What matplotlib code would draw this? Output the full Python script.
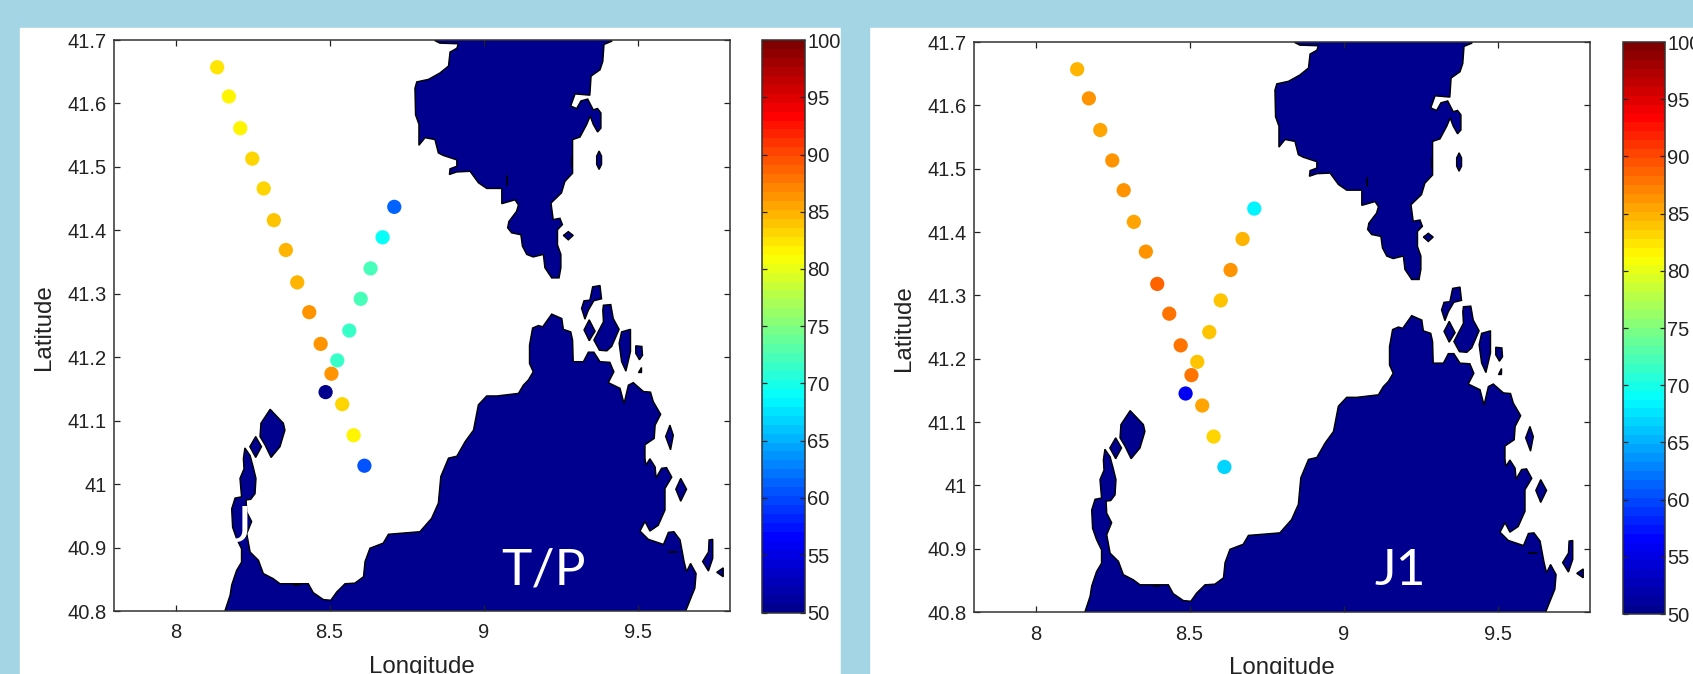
import matplotlib
matplotlib.use("Agg")
import matplotlib.pyplot as plt
from matplotlib.colors import LinearSegmentedColormap
from matplotlib.patches import Rectangle

W, H = 1693, 674
BG = "#A3D5E4"
LAND = "#00008F"

# satellite track points, same positions for both panels
track_lon = [8.135, 8.173, 8.210, 8.249, 8.286, 8.319, 8.358, 8.395, 8.434, 8.471, 8.541, 8.578, 8.613,
             8.710, 8.672, 8.633, 8.601, 8.564, 8.525, 8.506, 8.487]
track_lat = [41.657, 41.611, 41.561, 41.513, 41.466, 41.416, 41.369, 41.318, 41.271, 41.221, 41.126, 41.077, 41.029,
             41.437, 41.389, 41.340, 41.292, 41.242, 41.195, 41.174, 41.145]
tp_values = [82.4, 81.8, 81.3, 83.0, 83.3, 84.0, 84.8, 85.0, 86.0, 86.0, 83.0, 81.5, 60.5,
             61.0, 68.8, 72.6, 72.6, 71.8, 71.1, 86.0, 50.5]
j1_values = [85.0, 86.0, 85.5, 86.0, 86.0, 85.5, 86.0, 88.5, 88.0, 88.0, 85.5, 83.5, 67.0,
             68.5, 85.0, 86.0, 84.0, 84.0, 84.0, 87.5, 56.0]

# coastline, lon/lat
north_lon = [8.842, 8.858, 8.918, 8.913, 8.891, 8.886, 8.858, 8.821, 8.783, 8.777, 8.779, 8.790, 8.790, 8.810, 8.842,
             8.853, 8.869, 8.913, 8.913, 8.891, 8.889, 8.913, 8.956, 8.983, 9.010, 9.059, 9.059, 9.102, 9.113, 9.107,
             9.082, 9.078, 9.091, 9.121, 9.126, 9.140, 9.161, 9.194, 9.199, 9.221, 9.245, 9.251, 9.251, 9.240, 9.240,
             9.256, 9.248, 9.226, 9.219, 9.253, 9.264, 9.289, 9.289, 9.313, 9.335, 9.346, 9.356, 9.370, 9.381, 9.381,
             9.370, 9.356, 9.338, 9.316, 9.302, 9.283, 9.297, 9.345, 9.349, 9.378, 9.387, 9.391, 9.416, 9.416, 8.842]
north_lat = [41.699, 41.695, 41.694, 41.687, 41.681, 41.659, 41.648, 41.638, 41.634, 41.624, 41.582, 41.567, 41.534, 41.546, 41.543,
             41.522, 41.518, 41.511, 41.501, 41.497, 41.488, 41.492, 41.493, 41.475, 41.466, 41.466, 41.442, 41.448, 41.440, 41.430,
             41.414, 41.404, 41.396, 41.393, 41.375, 41.362, 41.358, 41.362, 41.341, 41.325, 41.325, 41.341, 41.362, 41.377, 41.401,
             41.409, 41.419, 41.417, 41.443, 41.459, 41.477, 41.490, 41.543, 41.547, 41.567, 41.580, 41.567, 41.555, 41.561, 41.585,
             41.592, 41.590, 41.607, 41.604, 41.592, 41.596, 41.615, 41.613, 41.643, 41.653, 41.666, 41.693, 41.698, 41.72, 41.72]

south_lon = [8.160, 8.177, 8.182, 8.198, 8.214, 8.214, 8.198, 8.185, 8.182, 8.193, 8.214, 8.209, 8.222, 8.220, 8.225,
             8.242, 8.252, 8.261, 8.258, 8.244, 8.229, 8.231, 8.247, 8.231, 8.242, 8.269, 8.285, 8.317, 8.339, 8.431,
             8.447, 8.480, 8.504, 8.523, 8.550, 8.582, 8.610, 8.615, 8.631, 8.674, 8.691, 8.793, 8.831, 8.853, 8.861,
             8.886, 8.913, 8.940, 8.967, 8.983, 9.010, 9.043, 9.113, 9.129, 9.145, 9.161, 9.149, 9.149, 9.159, 9.178,
             9.192, 9.221, 9.254, 9.259, 9.283, 9.289, 9.291, 9.324, 9.340, 9.358, 9.378, 9.410, 9.423, 9.405, 9.443,
             9.456, 9.470, 9.486, 9.519, 9.542, 9.551, 9.575, 9.557, 9.554, 9.524, 9.524, 9.527, 9.540, 9.557, 9.560,
             9.578, 9.594, 9.611, 9.589, 9.589, 9.567, 9.540, 9.524, 9.508, 9.535, 9.584, 9.600, 9.618, 9.638, 9.651,
             9.659, 9.672, 9.690, 9.686, 9.657, 9.645, 8.150]
south_lat = [40.800, 40.825, 40.841, 40.864, 40.877, 40.898, 40.914, 40.932, 40.961, 40.978, 40.980, 41.009, 41.024, 41.040, 41.057,
             41.045, 41.027, 41.009, 40.985, 40.976, 40.975, 40.956, 40.941, 40.922, 40.893, 40.880, 40.859, 40.851, 40.843, 40.843,
             40.829, 40.818, 40.817, 40.830, 40.843, 40.844, 40.854, 40.878, 40.899, 40.907, 40.921, 40.925, 40.946, 40.970, 41.012,
             41.041, 41.044, 41.067, 41.085, 41.125, 41.139, 41.139, 41.143, 41.156, 41.164, 41.177, 41.190, 41.219, 41.246, 41.250,
             41.248, 41.268, 41.261, 41.244, 41.240, 41.227, 41.193, 41.193, 41.208, 41.208, 41.193, 41.192, 41.177, 41.160, 41.151,
             41.127, 41.156, 41.160, 41.146, 41.145, 41.130, 41.110, 41.093, 41.072, 41.062, 41.041, 41.030, 41.040, 41.027, 41.010,
             41.025, 41.026, 41.011, 40.993, 40.959, 40.935, 40.926, 40.941, 40.926, 40.913, 40.905, 40.924, 40.925, 40.912, 40.878,
             40.862, 40.875, 40.859, 40.836, 40.801, 40.78, 40.78]

# small islands as (lons, lats)
islands = [
    ([9.259, 9.275, 9.291, 9.275], [41.392, 41.398, 41.392, 41.385]),
    ([9.375, 9.383, 9.383, 9.375, 9.367, 9.367], [41.525, 41.517, 41.504, 41.496, 41.504, 41.517]),
    ([9.354, 9.378, 9.383, 9.358, 9.340, 9.329, 9.318, 9.326, 9.345], [41.311, 41.313, 41.292, 41.289, 41.274, 41.260, 41.277, 41.289, 41.290]),
    ([9.343, 9.362, 9.343, 9.326], [41.259, 41.241, 41.226, 41.243]),
    ([9.389, 9.413, 9.421, 9.440, 9.416, 9.400, 9.376, 9.358, 9.389, 9.387], [41.282, 41.283, 41.261, 41.244, 41.217, 41.210, 41.211, 41.227, 41.256, 41.274]),
    ([9.448, 9.477, 9.477, 9.462, 9.448, 9.440], [41.240, 41.244, 41.209, 41.178, 41.193, 41.222]),
    ([9.494, 9.514, 9.516, 9.506, 9.494], [41.218, 41.217, 41.203, 41.196, 41.206]),
    ([9.510, 9.510, 9.502], [41.185, 41.176, 41.176]),
    ([9.605, 9.616, 9.607, 9.591], [41.093, 41.077, 41.054, 41.075]),
    ([9.640, 9.659, 9.640, 9.624], [41.009, 40.992, 40.973, 40.992]),
    ([9.732, 9.744, 9.744, 9.730, 9.711, 9.730], [40.912, 40.913, 40.883, 40.863, 40.878, 40.893]),
    ([9.778, 9.778, 9.757], [40.868, 40.854, 40.861]),
    ([8.307, 8.350, 8.355, 8.339, 8.310, 8.290, 8.274, 8.277], [41.118, 41.096, 41.085, 41.059, 41.042, 41.062, 41.075, 41.096]),
    ([8.260, 8.279, 8.260, 8.241], [41.075, 41.059, 41.042, 41.059]),
]
# black slivers of coastline inside the land
lakes = [
    ([9.075, 9.075], [41.485, 41.472]),
    ([9.286, 9.286], [41.517, 41.501]),
    ([9.602, 9.627], [40.893, 40.893]),
    ([8.385, 8.400], [40.841, 40.841]),
]

lon_ticks = [8, 8.5, 9, 9.5]
lat_ticks = [40.8, 40.9, 41, 41.1, 41.2, 41.3, 41.4, 41.5, 41.6, 41.7]
lon_labels = ["8", "8.5", "9", "9.5"]
lat_labels = ["40.8", "40.9", "41", "41.1", "41.2", "41.3", "41.4", "41.5", "41.6", "41.7"]
cbar_ticks = [50, 55, 60, 65, 70, 75, 80, 85, 90, 95, 100]

plt.rcParams["font.family"] = ["Liberation Sans", "DejaVu Sans"]
# matlab's jet, the matplotlib one has its yellow a bit higher up
jet = LinearSegmentedColormap.from_list("matlab_jet", [
    (0, (0, 0, 0.5625)), (0.125, (0, 0, 1)), (0.375, (0, 1, 1)),
    (0.625, (1, 1, 0)), (0.875, (1, 0, 0)), (1, (0.5, 0, 0))], N=64)


def px_axes(x0, y0, x1, y1):
    # pixel box (top-left origin) to a figure axes
    return fig.add_axes([x0 / W, 1 - y1 / H, (x1 - x0) / W, (y1 - y0) / H])


def draw_panel(box, cbox, values, label, label_lon):
    ax = px_axes(*box)
    ax.fill(north_lon, north_lat, facecolor=LAND, edgecolor="black", lw=1)
    ax.fill(south_lon, south_lat, facecolor=LAND, edgecolor="black", lw=1)
    for lons, lats in islands:
        ax.fill(lons, lats, facecolor=LAND, edgecolor="black", lw=1)
    for lons, lats in lakes:
        ax.plot(lons, lats, color="black", lw=1.2)
    sc = ax.scatter(track_lon, track_lat, c=values, cmap=jet, vmin=50, vmax=100, s=105, linewidths=0, zorder=3)
    ax.set_xlim(7.8, 9.8)
    ax.set_ylim(40.8, 41.7)
    ax.set_xticks(lon_ticks, labels=lon_labels)
    ax.set_yticks(lat_ticks, labels=lat_labels)
    ax.tick_params(direction="in", length=4.5, width=0.9, top=True, right=True, labelsize=14.5, colors="#222222")
    ax.tick_params(axis="x", pad=9)
    ax.tick_params(axis="y", pad=5)
    for s in ax.spines.values():
        s.set_linewidth(1.1)
        s.set_color("#333333")
        s.set_zorder(5)
    ax.set_xlabel("Longitude", fontsize=17.4, color="#222222")
    ax.xaxis.set_label_coords(0.5, -0.079)
    ax.set_ylabel("Latitude", fontsize=17.4, color="#222222")
    ax.yaxis.set_label_coords(-0.095, 0.4975)
    ax.text(label_lon, 40.842, label, color="white", fontsize=37, family="Lato", va="baseline", zorder=4)

    cax = px_axes(*cbox)
    cb = fig.colorbar(sc, cax=cax)
    cb.set_ticks(cbar_ticks)
    cb.ax.tick_params(direction="in", length=3.5, width=0.9, left=True, right=True, labelsize=14.5, pad=2, colors="#222222")
    cb.outline.set_linewidth(1.1)
    cb.outline.set_edgecolor("#333333")
    return ax


fig = plt.figure(figsize=(W / 100, H / 100), dpi=100, facecolor=BG)
fig.add_artist(Rectangle((20 / W, 0), 821 / W, 1 - 28 / H, transform=fig.transFigure, color="white", zorder=-5))
fig.add_artist(Rectangle((869 / W, 0), (W - 869) / W, 1 - 28 / H, transform=fig.transFigure, color="white", zorder=-5))

left = draw_panel((114, 40, 730, 611), (762, 40, 804.5, 612.5), tp_values, "T/P", 9.056)
right = draw_panel((974, 42, 1590, 612), (1622.5, 42, 1664.5, 614), j1_values, "J1", 9.099)
left.text(8.176, 40.909, "J", color="white", fontsize=37, family="Lato", va="baseline", zorder=4)

# the blue band between the slides cuts off the left colorbar's top label
fig.add_artist(Rectangle((841 / W, 0), 28 / W, 1, transform=fig.transFigure, color=BG, zorder=20))

fig.savefig("out.png", dpi=100, facecolor=BG)
